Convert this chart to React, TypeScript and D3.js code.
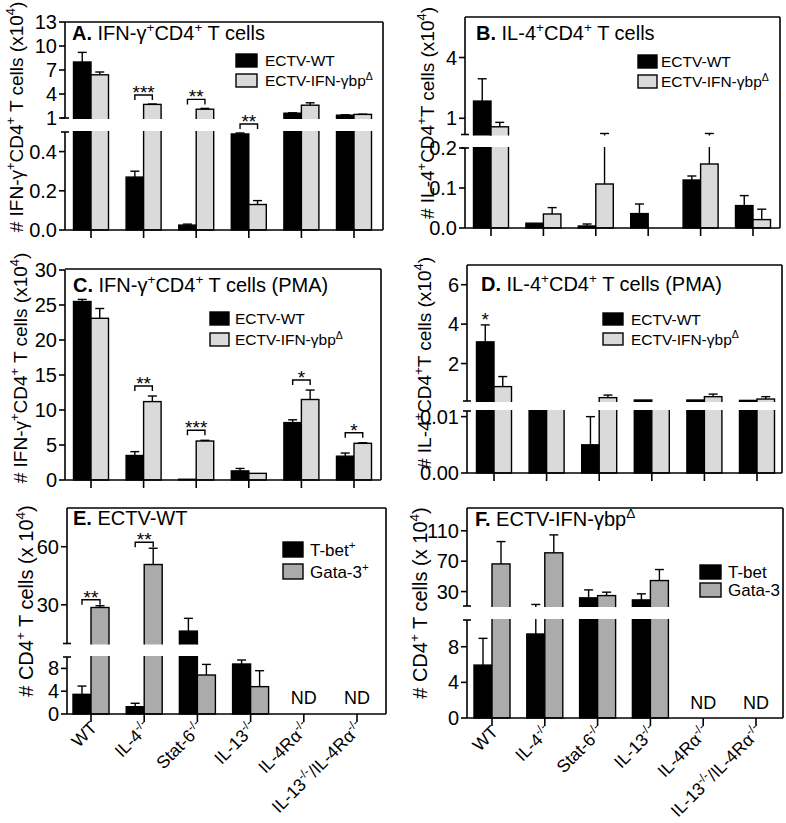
import React from "react";
import * as d3 from "d3";

// ---------- data ----------
const categories = ["WT", "IL-4^{-/-}", "Stat-6^{-/-}", "IL-13^{-/-}", "IL-4Rα^{-/-}", "IL-13^{-/-}/IL-4Rα^{-/-}"];
const legendInfection = ["ECTV-WT", "ECTV-IFN-γbp^{Δ}"];
const legendE = ["T-bet^{+}", "Gata-3^{+}"];
const legendF = ["T-bet", "Gata-3"];

// A. IFN-γ+CD4+ T cells (x10^4)
const aWT = [8.0, 0.27, 0.025, 0.49, 1.6, 1.35];
const aWTSem = [1.2, 0.03, 0.005, 0.005, 0.05, 0.05];
const aDel = [6.4, 2.7, 2.1, 0.13, 2.6, 1.45];
const aDelSem = [0.35, 0.05, 0.1, 0.02, 0.3, 0.03];
const aSig = ["", "***", "**", "**", "", ""];
const aTicksLow = [0, 0.2, 0.4];
const aTicksHigh = [1, 4, 7, 10, 13];

// B. IL-4+CD4+ T cells
const bWT = [1.85, 0.012, 0.005, 0.036, 0.12, 0.056];
const bWTSem = [1.1, 0, 0.005, 0.024, 0.01, 0.025];
const bDel = [0.58, 0.035, 0.11, 0, 0.16, 0.021];
const bDelSem = [0.22, 0.016, 0.14, 0, 0.09, 0.026];
const bTicksLow = [0, 0.1, 0.2];
const bTicksHigh = [1, 4];

// C. IFN-γ+CD4+ T cells (PMA)
const cWT = [25.5, 3.5, 0.1, 1.3, 8.2, 3.4];
const cWTSem = [0.3, 0.55, 0, 0.35, 0.4, 0.45];
const cDel = [23.1, 11.2, 5.57, 0.95, 11.5, 5.24];
const cDelSem = [1.4, 0.8, 0.1, 0, 1.35, 0.08];
const cSig = ["", "**", "***", "", "*", "*"];
const cTicks = [0, 5, 10, 15, 20, 25, 30];

// D. IL-4+CD4+ T cells (PMA)
const dWT = [3.1, 0.05, 0.005, 0.15, 0.15, 0.13];
const dWTSem = [0.86, 0, 0.005, 0, 0, 0];
const dDel = [0.83, 0.05, 0.27, 0.05, 0.32, 0.2];
const dDelSem = [0.51, 0, 0.13, 0, 0.13, 0.12];
const dStar = ["*", "", "", "", "", ""];
const dTicksLow = [0, 0.01];
const dTicksHigh = [2, 4, 6];

// E. ECTV-WT
const eTbet = [3.45, 1.28, 16.4, 8.77, 0, 0];
const eTbetSem = [1.45, 0.6, 6.6, 0.7, 0, 0];
const eGata = [28.6, 50.8, 6.84, 4.8, 0, 0];
const eGataSem = [0.9, 8.4, 1.86, 2.8, 0, 0];
const eSig = ["**", "**", "", "", "", ""];
const eND = [false, false, false, false, true, true];
const eTicksLow = [0, 4, 8];
const eTicksHigh = [30, 60];

// F. ECTV-IFN-γbpΔ
const fTbet = [5.94, 9.43, 21.7, 19, 0, 0];
const fTbetSem = [3.0, 3.6, 10.5, 8, 0, 0];
const fGata = [66.4, 81, 24.7, 44.5, 0, 0];
const fGataSem = [29.4, 23.6, 4.5, 14.5, 0, 0];
const fND = [false, false, false, false, true, true];
const fTicksLow = [0, 4, 8];
const fTicksHigh = [30, 70, 110];

// ---------- helpers ----------
const FONT = "'Liberation Sans', Arial, Helvetica, sans-serif";
const BLACK = "#000000";
const LIGHT = "#dadada";
const MID = "#ababab";

function parseRich(s: string) {
  const parts: { t: string; sup: boolean }[] = [];
  const re = /\^\{([^}]*)\}/g;
  let last = 0;
  let m: RegExpExecArray | null;
  while ((m = re.exec(s))) {
    if (m.index > last) parts.push({ t: s.slice(last, m.index), sup: false });
    parts.push({ t: m[1], sup: true });
    last = re.lastIndex;
  }
  if (last < s.length) parts.push({ t: s.slice(last), sup: false });
  return parts;
}

function rich(s: string, fs: number, keyPrefix = "r") {
  const parts = parseRich(s);
  const shift = fs * 0.4;
  let state = false;
  return parts.map((p, i) => {
    let dy = 0;
    if (p.sup && !state) dy = -shift;
    else if (!p.sup && state) dy = shift;
    state = p.sup;
    return (
      <tspan key={keyPrefix + i} dy={dy !== 0 ? dy : undefined} fontSize={p.sup ? fs * 0.68 : fs}>
        {p.t}
      </tspan>
    );
  });
}

type Seg = { domain: [number, number]; range: [number, number]; ticks: number[]; fmt: string };
type Series = { values: number[]; sem: number[]; fill: string };
type PanelCfg = {
  id: string;
  left: number;
  right: number;
  top: number;
  axisY: number;
  xFirst: number;
  xLast: number;
  barW: number;
  segs: Seg[];
  series: Series[];
  sig?: string[];
  sigGap?: number;
  starOnly?: string[];
  title: { x: number; y: number; letter: string; text: string; fs: number };
  legend: { x: number; y: number; w: number; h: number; dy: number; tx: number; fs: number; labels: string[] };
  yLabel: { x: number; y: number; text: string; fs: number };
  tickFs: number;
  xLabels?: boolean;
  nd?: boolean[];
  ndY?: number;
};

function Panel({ cfg }: { cfg: PanelCfg }) {
  const { left, right, top, axisY, segs, barW } = cfg;
  const x = d3.scalePoint<string>().domain(categories).range([cfg.xFirst, cfg.xLast]);
  const scales = segs.map((s) => d3.scaleLinear().domain(s.domain).range(s.range));
  const nSeg = segs.length;
  const capW = 9;

  const yOf = (v: number) => {
    for (let i = nSeg - 1; i >= 0; i--) {
      if (i === 0 || v >= segs[i].domain[0]) return scales[i](Math.min(v, segs[i].domain[1]));
    }
    return scales[0](v);
  };

  const elems: React.ReactNode[] = [];

  const clips = segs.map((s, i) => (
    <clipPath id={`clip-${cfg.id}-${i}`} key={`cp${i}`}>
      <rect x={left - 2} y={s.range[1] - 1} width={right - left + 4} height={s.range[0] - s.range[1] + 2} />
    </clipPath>
  ));

  cfg.series.forEach((ser, k) => {
    categories.forEach((c, j) => {
      const v = ser.values[j];
      const sem = ser.sem[j];
      const cx0 = x(c)!;
      const bx = k === 0 ? cx0 - barW : cx0;
      const bc = bx + barW / 2;
      segs.forEach((s, i) => {
        const sc = scales[i];
        const [lo, hi] = s.domain;
        const lowest = i === 0;
        if (v > 0 && (lowest || v > lo)) {
          const yTop = v >= hi ? s.range[1] - 6 : sc(v);
          const yBot = lowest ? sc(0) : s.range[0] + 6;
          elems.push(
            <rect
              key={`b${k}-${j}-${i}`}
              x={bx}
              y={yTop}
              width={barW}
              height={Math.max(0, yBot - yTop)}
              fill={ser.fill}
              stroke="#000"
              strokeWidth={1.4}
              clipPath={`url(#clip-${cfg.id}-${i})`}
            />
          );
        }
        if (sem > 0) {
          const e = v + sem;
          if (e > lo && v < hi) {
            const y1 = v < lo ? s.range[0] + 6 : sc(v);
            const y2 = e > hi ? s.range[1] - 6 : sc(e);
            elems.push(
              <line key={`e${k}-${j}-${i}`} x1={bc} x2={bc} y1={y1} y2={y2} stroke="#000" strokeWidth={1.4}
                clipPath={`url(#clip-${cfg.id}-${i})`} />
            );
            if (e <= hi) {
              elems.push(
                <line key={`ec${k}-${j}-${i}`} x1={bc - capW / 2} x2={bc + capW / 2} y1={sc(e)} y2={sc(e)}
                  stroke="#000" strokeWidth={1.4} />
              );
            }
          }
        }
      });
    });
  });

  const gap = cfg.sigGap ?? 9;
  if (cfg.sig) {
    categories.forEach((c, j) => {
      const s = cfg.sig![j];
      if (!s) return;
      const cx0 = x(c)!;
      const tops = cfg.series.map((ser) => yOf(ser.values[j] + ser.sem[j]));
      const y = Math.min(...tops) - gap;
      const x0 = cx0 - barW / 2;
      const x1 = cx0 + barW / 2;
      elems.push(
        <path key={`sg${j}`} d={`M${x0},${y + 5}V${y}H${x1}V${y + 5}`} fill="none" stroke="#000" strokeWidth={1.4} />
      );
      elems.push(
        <text key={`st${j}`} x={cx0} y={y + 4} fontSize={19} textAnchor="middle" fontFamily={FONT}>
          {s}
        </text>
      );
    });
  }
  if (cfg.starOnly) {
    categories.forEach((c, j) => {
      const s = cfg.starOnly![j];
      if (!s) return;
      const ser = cfg.series[0];
      const bc = x(c)! - barW / 2;
      const y = yOf(ser.values[j] + ser.sem[j]);
      elems.push(
        <text key={`so${j}`} x={bc} y={y + 1} fontSize={19} textAnchor="middle" fontFamily={FONT}>
          {s}
        </text>
      );
    });
  }

  const axis: React.ReactNode[] = [];
  segs.forEach((s, i) => {
    const sc = scales[i];
    const yb = i === 0 ? axisY : s.range[0];
    axis.push(<line key={`ax${i}`} x1={left} x2={left} y1={yb} y2={s.range[1]} stroke="#000" strokeWidth={1.6} />);
    const f = d3.format(s.fmt);
    s.ticks.forEach((t) => {
      const y = sc(t);
      axis.push(<line key={`tk${i}-${t}`} x1={left - 6} x2={left} y1={y} y2={y} stroke="#000" strokeWidth={1.6} />);
      axis.push(
        <text key={`tl${i}-${t}`} x={left - 8} y={y} dy="0.35em" fontSize={cfg.tickFs} textAnchor="end" fontFamily={FONT}>
          {f(t)}
        </text>
      );
    });
    if (nSeg > 1) {
      if (i > 0)
        axis.push(<line key={`bk0${i}`} x1={left - 4} x2={left + 4} y1={s.range[0]} y2={s.range[0]} stroke="#000" strokeWidth={1.6} />);
      if (i < nSeg - 1)
        axis.push(<line key={`bk1${i}`} x1={left - 4} x2={left + 4} y1={s.range[1]} y2={s.range[1]} stroke="#000" strokeWidth={1.6} />);
    }
  });
  axis.push(<line key="top" x1={left} x2={right} y1={top} y2={top} stroke="#000" strokeWidth={1.6} />);
  axis.push(<line key="right" x1={right} x2={right} y1={top} y2={axisY} stroke="#000" strokeWidth={1.6} />);
  axis.push(<line key="xax" x1={left} x2={right} y1={axisY} y2={axisY} stroke="#000" strokeWidth={1.6} />);
  categories.forEach((c, j) => {
    const cx0 = x(c)!;
    axis.push(<line key={`xt${j}`} x1={cx0} x2={cx0} y1={axisY} y2={axisY + 8} stroke="#000" strokeWidth={1.6} />);
    if (cfg.xLabels) {
      axis.push(
        <text key={`xl${j}`} fontSize={17.5} fontFamily={FONT} textAnchor="end"
          transform={`translate(${cx0 + 7},${axisY + 15}) rotate(-45)`}>
          {rich(c, 17.5, `x${j}`)}
        </text>
      );
    }
    if (cfg.nd && cfg.nd[j]) {
      axis.push(
        <text key={`nd${j}`} x={cx0} y={cfg.ndY} fontSize={18} textAnchor="middle" fontFamily={FONT}>ND</text>
      );
    }
  });

  const lg = cfg.legend;
  const legend = cfg.series.map((ser, k) => (
    <g key={`lg${k}`}>
      <rect x={lg.x} y={lg.y + k * lg.dy} width={lg.w} height={lg.h} fill={ser.fill} stroke="#000" strokeWidth={1.4} />
      <text x={lg.tx} y={lg.y + k * lg.dy + lg.h / 2 + lg.fs * 0.36} fontSize={lg.fs} fontFamily={FONT}>
        {rich(lg.labels[k], lg.fs, `l${k}`)}
      </text>
    </g>
  ));

  const t = cfg.title;
  const yl = cfg.yLabel;
  return (
    <g>
      <defs>{clips}</defs>
      {elems}
      {axis}
      {legend}
      <text x={t.x} y={t.y} fontSize={t.fs} fontFamily={FONT}>
        <tspan fontWeight="bold">{t.letter}</tspan>
        {rich(" " + t.text, t.fs, "t")}
      </text>
      <text transform={`translate(${yl.x},${yl.y}) rotate(-90)`} textAnchor="middle" fontSize={yl.fs} fontFamily={FONT}>
        {rich(yl.text, yl.fs, "y")}
      </text>
    </g>
  );
}

export default function App() {
  const panels: PanelCfg[] = [
    {
      id: "A", left: 65, right: 383, top: 22, axisY: 230, xFirst: 91, xLast: 354, barW: 17.5,
      segs: [
        { domain: [0, 0.5], range: [230, 132], ticks: aTicksLow, fmt: ".1f" },
        { domain: [1, 13], range: [118, 22], ticks: aTicksHigh, fmt: "d" },
      ],
      series: [
        { values: aWT, sem: aWTSem, fill: BLACK },
        { values: aDel, sem: aDelSem, fill: LIGHT },
      ],
      sig: aSig,
      title: { x: 72, y: 40, letter: "A.", text: "IFN-γ^{+}CD4^{+} T cells", fs: 20 },
      legend: { x: 236, y: 54, w: 21, h: 13, dy: 20, tx: 265, fs: 15.5, labels: legendInfection },
      yLabel: { x: 23, y: 117, text: "# IFN-γ^{+}CD4^{+} T cells (x10^{4})", fs: 19 },
      tickFs: 20,
    },
    {
      id: "B", left: 465, right: 780, top: 17, axisY: 228, xFirst: 491, xLast: 753, barW: 17.5,
      segs: [
        { domain: [0, 0.2], range: [228, 148], ticks: bTicksLow, fmt: ".1f" },
        { domain: [0.2, 6], range: [134.5, 17], ticks: bTicksHigh, fmt: "d" },
      ],
      series: [
        { values: bWT, sem: bWTSem, fill: BLACK },
        { values: bDel, sem: bDelSem, fill: LIGHT },
      ],
      title: { x: 476, y: 40, letter: "B.", text: "IL-4^{+}CD4^{+} T cells", fs: 20 },
      legend: { x: 638, y: 55, w: 19, h: 13, dy: 20, tx: 661, fs: 15.5, labels: legendInfection },
      yLabel: { x: 434, y: 113, text: "# IL-4^{+}CD4^{+}T cells (x10^{4})", fs: 19 },
      tickFs: 20,
    },
    {
      id: "C", left: 65, right: 381, top: 269, axisY: 480, xFirst: 91, xLast: 354, barW: 17.5,
      segs: [{ domain: [0, 30], range: [480, 270], ticks: cTicks, fmt: "d" }],
      series: [
        { values: cWT, sem: cWTSem, fill: BLACK },
        { values: cDel, sem: cDelSem, fill: LIGHT },
      ],
      sig: cSig,
      sigGap: 10,
      title: { x: 73, y: 292, letter: "C.", text: "IFN-γ^{+}CD4^{+} T cells (PMA)", fs: 20 },
      legend: { x: 210, y: 312, w: 19, h: 13, dy: 21, tx: 235, fs: 15.5, labels: legendInfection },
      yLabel: { x: 27, y: 368, text: "# IFN-γ^{+}CD4^{+} T cells (x10^{4})", fs: 19 },
      tickFs: 20,
    },
    {
      id: "D", left: 467, right: 782, top: 265, axisY: 473, xFirst: 494, xLast: 757, barW: 17.5,
      segs: [
        { domain: [0, 0.011], range: [473, 411], ticks: dTicksLow, fmt: ".2f" },
        { domain: [0.1, 7], range: [401, 265], ticks: dTicksHigh, fmt: "d" },
      ],
      series: [
        { values: dWT, sem: dWTSem, fill: BLACK },
        { values: dDel, sem: dDelSem, fill: LIGHT },
      ],
      starOnly: dStar,
      title: { x: 481, y: 291, letter: "D.", text: "IL-4^{+}CD4^{+} T cells (PMA)", fs: 20 },
      legend: { x: 603, y: 313, w: 20, h: 12, dy: 20, tx: 631, fs: 15.5, labels: legendInfection },
      yLabel: { x: 431, y: 363, text: "# IL-4^{+}CD4^{+}T cells (x10^{4})", fs: 19 },
      tickFs: 20,
    },
    {
      id: "E", left: 67, right: 386, top: 508, axisY: 714, xFirst: 91, xLast: 357, barW: 18,
      segs: [
        { domain: [0, 10], range: [714, 657], ticks: eTicksLow, fmt: "d" },
        { domain: [10, 80], range: [643.5, 508], ticks: eTicksHigh, fmt: "d" },
      ],
      series: [
        { values: eTbet, sem: eTbetSem, fill: BLACK },
        { values: eGata, sem: eGataSem, fill: MID },
      ],
      sig: eSig,
      sigGap: 6,
      title: { x: 73, y: 525, letter: "E.", text: "ECTV-WT", fs: 20 },
      legend: { x: 283, y: 542, w: 20, h: 15, dy: 22, tx: 310, fs: 17, labels: legendE },
      yLabel: { x: 33, y: 601, text: "# CD4^{+} T cells (x 10^{4})", fs: 20 },
      tickFs: 20,
      xLabels: true,
      nd: eND,
      ndY: 704,
    },
    {
      id: "F", left: 467, right: 783, top: 508, axisY: 718, xFirst: 492, xLast: 756, barW: 18,
      segs: [
        { domain: [0, 11], range: [718, 620], ticks: fTicksLow, fmt: "d" },
        { domain: [11, 140], range: [606, 508], ticks: fTicksHigh, fmt: "d" },
      ],
      series: [
        { values: fTbet, sem: fTbetSem, fill: BLACK },
        { values: fGata, sem: fGataSem, fill: MID },
      ],
      title: { x: 475, y: 526, letter: "F.", text: "ECTV-IFN-γbp^{Δ}", fs: 20 },
      legend: { x: 700, y: 565, w: 21, h: 14, dy: 18, tx: 728, fs: 17, labels: legendF },
      yLabel: { x: 427, y: 603, text: "# CD4^{+} T cells (x 10^{4})", fs: 20 },
      tickFs: 20,
      xLabels: true,
      nd: fND,
      ndY: 709,
    },
  ];

  return (
    <svg width={786} height={823} style={{ position: "absolute", left: 0, top: 0, background: "#fff" }}
      xmlns="http://www.w3.org/2000/svg">
      <rect width={786} height={823} fill="#fff" />
      {panels.map((p) => (
        <Panel key={p.id} cfg={p} />
      ))}
    </svg>
  );
}
